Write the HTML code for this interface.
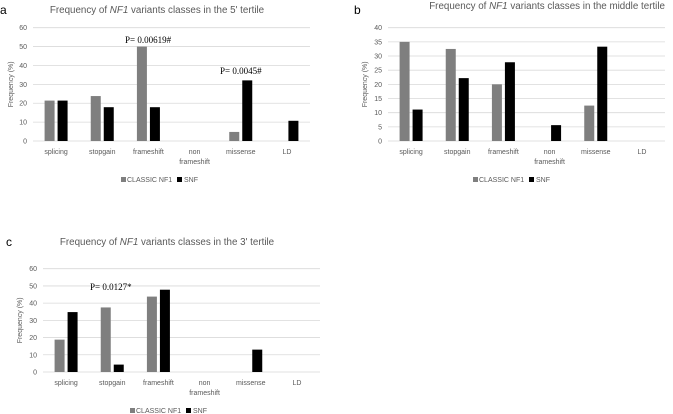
<!DOCTYPE html>
<html><head><meta charset="utf-8"><style>
html,body{margin:0;padding:0;background:#fff;}
svg{display:block;font-family:"Liberation Sans",sans-serif;}
.tick{font-size:7px;fill:#595959;}
.ttl{font-size:9.8px;fill:#595959;}
.pan{font-size:12px;fill:#000;}
.pv{font-family:"Liberation Serif",serif;font-size:9px;fill:#000;}
</style></head><body>
<svg id="root" width="673" height="414" viewBox="0 0 673 414" xmlns="http://www.w3.org/2000/svg">
<text class="pan" x="0" y="14">a</text>
<text class="pan" x="354" y="14">b</text>
<text class="pan" x="6" y="246">c</text>
</svg>
<script>
const categories = ["splicing","stopgain","frameshift","non frameshift","missense","LD"];
const classicA = [21.4, 23.8, 50, 0, 4.8, 0];
const snfA = [21.4, 17.9, 17.9, 0, 32.1, 10.7];
const ticksA = [0,10,20,30,40,50,60];
const classicB = [35, 32.5, 20, 0, 12.5, 0];
const snfB = [11.1, 22.2, 27.8, 5.6, 33.3, 0];
const ticksB = [0,5,10,15,20,25,30,35,40];
const classicC = [18.8, 37.5, 43.8, 0, 0, 0];
const snfC = [34.8, 4.3, 47.8, 0, 13, 0];
const ticksC = [0,10,20,30,40,50,60];

const NS="http://www.w3.org/2000/svg";
const root=document.getElementById('root');
function mk(tag,attrs,parent){const e=document.createElementNS(NS,tag);for(const k in attrs)e.setAttribute(k,attrs[k]);(parent||root).appendChild(e);return e;}

function chart(id,cfg,classic,snf,ticks){
  const g=mk('g',{});
  
  
  const ymax=ticks[ticks.length-1];
  const y=v=>cfg.y0-(v/ymax)*(cfg.y0-cfg.yTop);
  const band=(cfg.right-cfg.left)/categories.length;
  const xc=i=>cfg.left+band*(i+0.5);
  ticks.forEach(t=>{
    const l=mk('line',{x1:cfg.left,x2:cfg.right,y1:y(t),y2:y(t),stroke:'#d9d9d9','stroke-width':0.8},g);
    
    
    const tx=mk('text',{x:cfg.left-6,y:y(t)+2.5,'text-anchor':'end',class:'tick'},g);
    tx.textContent=t;
    
    
  });
  categories.forEach((c,i)=>{
    const bw=10, gap=3;
    const b1=mk('rect',{x:xc(i)-gap/2-bw,y:y(classic[i]),width:bw,height:cfg.y0-y(classic[i]),fill:'#7f7f7f'},g);
    
    
    const b2=mk('rect',{x:xc(i)+gap/2,y:y(snf[i]),width:bw,height:cfg.y0-y(snf[i]),fill:'#000'},g);
    
    
    const parts=c.split(' ');
    parts.forEach((p,k)=>{
      const t=mk('text',{x:xc(i),y:cfg.y0+13+k*10,'text-anchor':'middle',class:'tick'},g);
      t.textContent=p;
      
      
    });
  });
  const yt=mk('text',{x:cfg.ytx,y:(cfg.y0+cfg.yTop)/2,'text-anchor':'middle',class:'tick',transform:`rotate(-90 ${cfg.ytx} ${(cfg.y0+cfg.yTop)/2})`},g);
  yt.textContent='Frequency (%)';
  
  
  const ti=mk('text',{x:cfg.tx,y:cfg.ty,'text-anchor':cfg.anchor||'middle',class:'ttl'},g);
  ti.innerHTML='Frequency of <tspan font-style="italic">NF1</tspan> variants classes in the '+cfg.tertile+' tertile';
  
  
  const lx=cfg.lx, ly=cfg.ly;
  const s1=mk('rect',{x:lx,y:ly-5,width:5,height:5,fill:'#7f7f7f'},g);
  
  
  const l1=mk('text',{x:lx+6,y:ly,class:'tick'},g); l1.textContent='CLASSIC NF1';
  
  
  const s2=mk('rect',{x:lx+56,y:ly-5,width:5,height:5,fill:'#000'},g);
  
  
  const l2=mk('text',{x:lx+63,y:ly,class:'tick'},g); l2.textContent='SNF';
  
  
  (cfg.pvals||[]).forEach(p=>{
    const t=mk('text',{x:p[0],y:p[1],class:'pv'},g); t.textContent=p[2];
    
    
  });
}
chart('a',{left:33,right:310,y0:141,yTop:27.7,ytx:13,tx:157,ty:13,tertile:"5'",lx:121,ly:182,
  pvals:[[125,43,'P= 0.00619#'],[220,74,'P= 0.0045#']]},classicA,snfA,ticksA);
chart('b',{left:388,right:665,y0:141,yTop:27.7,ytx:367,tx:665,ty:9,anchor:'end',tertile:"middle",lx:473,ly:182},classicB,snfB,ticksB);
chart('c',{left:43,right:320,y0:372,yTop:268.7,ytx:22,tx:167,ty:245,tertile:"3'",lx:130,ly:413,
  pvals:[[90,290,'P= 0.0127*']]},classicC,snfC,ticksC);
</script>
</body></html>
